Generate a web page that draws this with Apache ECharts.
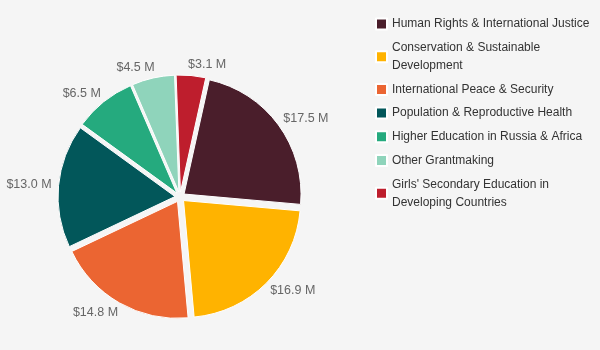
<!DOCTYPE html>
<html>
<head>
<meta charset="utf-8">
<script src="https://cdn.jsdelivr.net/npm/echarts@6/dist/echarts.min.js"></script>
<style>
html,body{margin:0;padding:0;background:#f5f5f5;}
#chart{width:600px;height:350px;}
</style>
</head>
<body>
<div id="chart"></div>
<script>
const categories = [
  "Human Rights & International Justice",
  "Conservation & Sustainable Development",
  "International Peace & Security",
  "Population & Reproductive Health",
  "Higher Education in Russia & Africa",
  "Other Grantmaking",
  "Girls' Secondary Education in Developing Countries"
];
const legendLabels = [
  "Human Rights & International Justice",
  "Conservation & Sustainable\nDevelopment",
  "International Peace & Security",
  "Population & Reproductive Health",
  "Higher Education in Russia & Africa",
  "Other Grantmaking",
  "Girls' Secondary Education in\nDeveloping Countries"
];
const values = [17.5, 16.9, 14.8, 13.0, 6.5, 4.5, 3.1];
const colors = ["#4a1e2b", "#ffb300", "#eb6532", "#02575a", "#25aa7e", "#8fd4bb", "#be1e2d"];

const chart = echarts.init(document.getElementById('chart'));
const legendMap = {};
categories.forEach((c, i) => legendMap[c] = legendLabels[i]);

chart.setOption({
  backgroundColor: '#f5f5f5',
  animation: false,
  color: colors,
  legend: {
    orient: 'vertical',
    left: 370,
    top: 10,
    itemWidth: 11,
    itemHeight: 11,
    itemGap: 5.7,
    icon: 'rect',
    selectedMode: false,
    formatter: name => legendMap[name],
    textStyle: {
      fontFamily: 'Liberation Sans, Arial, sans-serif',
      fontSize: 12,
      color: '#333',
      lineHeight: 18
    },
    data: categories
  },
  series: [{
    type: 'pie',
    center: [180, 197],
    radius: [0, 117],
    startAngle: 77.5,
    clockwise: true,
    avoidLabelOverlap: false,
    selectedMode: 'multiple',
    selectedOffset: 5,
    select: { itemStyle: { borderColor: '#ffffff', borderWidth: 1 } },
    itemStyle: {
      borderColor: '#ffffff',
      borderWidth: 1
    },
    label: {
      show: true,
      position: 'outside',
      formatter: p => '$' + p.value.toFixed(1) + ' M',
      fontFamily: 'Liberation Sans, Arial, sans-serif',
      fontSize: 12.5,
      color: '#666',
      distanceToLabelLine: -4
    },
    labelLine: { show: false, length: 11, length2: 0 },
    data: categories.map((c, i) => ({ name: c, value: values[i], selected: true }))
  }]
});
</script>
</body>
</html>
